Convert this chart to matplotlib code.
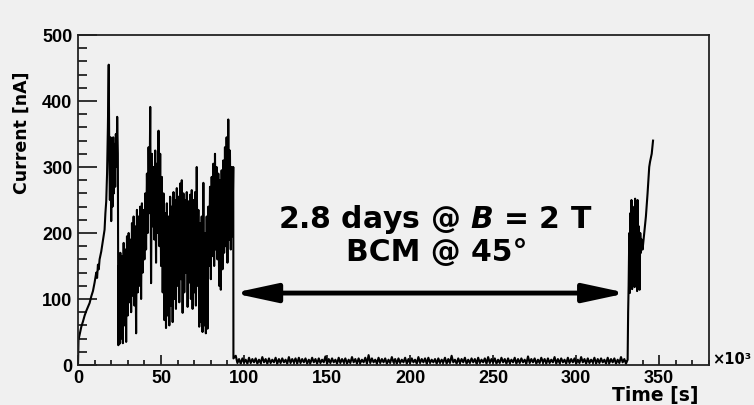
import numpy as np
import matplotlib
matplotlib.use('Agg')
import matplotlib.pyplot as plt
from matplotlib.ticker import MultipleLocator

# Beam current (time in 10^3 s, current in nA)
ramp_t = [0, 0.3, 1, 2, 3, 4, 5, 6, 7, 8, 9, 10, 11, 11.5, 12, 12.5, 13, 14, 15, 16, 16.5, 17, 17.5, 18, 18.5]
ramp_y = [0, 38, 46, 58, 66, 75, 82, 88, 94, 104, 112, 125, 140, 132, 152, 145, 160, 172, 189, 205, 230, 248, 290, 360, 455]

burst_t = [18.8, 19.2, 19.6, 20.0, 20.4, 20.8, 21.2, 21.6, 22.0, 22.4, 22.8, 23.2, 23.6, 24.0, 24.3]
burst_y = [330, 250, 345, 218, 330, 240, 345, 260, 335, 270, 350, 300, 376, 320, 30]

# noisy running period, sampled every 0.5e3 s from 24.5e3 to 93.5e3 s
active_start = 24.5
active_step = 0.5
active_y = [150, 32, 170, 40, 165, 33, 185, 60, 175, 35, 195, 75, 200, 95, 190, 80,
            215, 105, 225, 90, 210, 48, 235, 110, 225, 120, 240, 100, 245, 140, 235, 160,
            260, 175, 290, 200, 330, 230, 391, 124, 320, 210, 300, 190, 325, 155, 305, 200,
            355, 180, 320, 150, 285, 110, 260, 68, 230, 56, 245, 75, 225, 60, 255, 90,
            240, 65, 262, 100, 250, 85, 268, 120, 255, 95, 275, 130, 280, 79, 260, 110,
            250, 140, 262, 88, 248, 125, 258, 100, 265, 85, 250, 110, 262, 90, 300, 120,
            235, 58, 215, 65, 225, 50, 276, 60, 200, 48, 225, 55, 240, 150, 270, 130,
            285, 165, 305, 150, 320, 175, 300, 160, 290, 120, 280, 114, 295, 145, 310, 170,
            330, 180, 345, 155, 372, 190, 325, 175, 300, 195, 300]

drop_t = [93.6]
drop_y = [10]

# beam off / dark current, sampled every 1e3 s from 95e3 to 330e3 s
flat_start = 95
flat_step = 1
flat_y = [14, 3, 9, 2, 10, 4, 8, 2, 11, 3, 9, 4, 10, 2, 8, 3, 12, 4, 9, 2,
          10, 3, 8, 4, 11, 2, 9, 3, 10, 4, 8, 2, 12, 3, 9, 4, 10, 2, 11, 3,
          9, 4, 10, 2, 8, 3, 11, 4, 9, 2, 10, 3, 8, 4, 13, 2, 9, 3, 10, 4,
          8, 2, 11, 3, 9, 4, 10, 2, 8, 3, 12, 4, 9, 2, 10, 3, 8, 4, 11, 2,
          15, 3, 10, 4, 8, 2, 11, 3, 9, 4, 10, 2, 8, 3, 12, 4, 9, 2, 10, 3,
          8, 4, 11, 2, 9, 3, 10, 4, 8, 2, 12, 3, 9, 4, 10, 2, 11, 3, 8, 4,
          9, 2, 10, 3, 8, 4, 11, 2, 9, 3, 14, 4, 8, 2, 10, 3, 9, 4, 11, 2,
          8, 3, 10, 4, 9, 2, 11, 3, 8, 4, 10, 2, 12, 3, 9, 4, 10, 2, 8, 3,
          11, 4, 9, 2, 10, 3, 8, 4, 11, 2, 9, 3, 10, 4, 8, 2, 13, 3, 9, 4,
          10, 2, 8, 3, 11, 4, 9, 2, 10, 3, 8, 4, 12, 2, 9, 3, 10, 4, 8, 2,
          11, 3, 9, 4, 10, 2, 8, 3, 12, 4, 9, 2, 10, 3, 8, 4, 11, 2, 9, 3,
          10, 4, 8, 2, 11, 3, 9, 4, 10, 2, 8, 3, 12, 4, 9, 2]

end_t = [331.0, 331.3, 331.6, 332.0, 332.3, 332.6, 333.0, 333.3, 333.7, 334.0, 334.4, 334.8,
         335.2, 335.5, 335.9, 336.3, 336.7, 337.0, 337.4, 337.8, 338.2, 338.6, 339.0, 339.5,
         340.0, 341.0, 342.0, 343.0, 344.0, 344.5, 345.5, 346.3]
end_y = [8, 80, 120, 200, 109, 230, 130, 250, 115, 240, 140, 225, 118, 252, 160, 235,
         112, 250, 150, 210, 114, 200, 170, 190, 175, 200, 225, 260, 300, 308, 320, 340]

active_t = active_start + active_step * np.arange(len(active_y))
flat_t = flat_start + flat_step * np.arange(len(flat_y))

tempo = np.concatenate([ramp_t, burst_t, active_t, drop_t, flat_t, end_t])
corrente = np.concatenate([ramp_y, burst_y, active_y, drop_y, flat_y, end_y])

plt.rcParams['mathtext.fontset'] = 'custom'
plt.rcParams['mathtext.it'] = 'DejaVu Sans:italic:bold'

bg = '#f0f0f0'
fig = plt.figure(figsize=(7.54, 4.05), dpi=100, facecolor=bg)
ax = fig.add_axes([78/754, 40/405, 631/754, 330/405], facecolor=bg)

ax.plot(tempo, corrente, color='black', lw=1.5)

ax.set_xlim(0, 380)
ax.set_ylim(0, 500)
ax.xaxis.set_major_locator(MultipleLocator(50))
ax.xaxis.set_minor_locator(MultipleLocator(10))
ax.yaxis.set_major_locator(MultipleLocator(100))
ax.yaxis.set_minor_locator(MultipleLocator(20))
ax.tick_params(axis='both', which='both', direction='in', width=1.3, color='#222222')
ax.tick_params(axis='y', which='major', length=13.5, pad=4)
ax.tick_params(axis='y', which='minor', length=6.5)
ax.tick_params(axis='x', which='major', length=7.5, pad=3.5)
ax.tick_params(axis='x', which='minor', length=3.8)
for lab in ax.get_xticklabels() + ax.get_yticklabels():
    lab.set_fontfamily('Liberation Sans')
    lab.set_fontweight('bold')
    lab.set_fontsize(13)
for s in ax.spines.values():
    s.set_linewidth(1.3)
    s.set_color('#222222')

# axis titles ROOT style
ax.text(0.983, -0.093, 'Time [s]', transform=ax.transAxes, ha='right', va='center',
        fontsize=13.5, fontweight='bold', family='DejaVu Sans')
ax.text(-0.0887, 0.888, 'Current [nA]', transform=ax.transAxes, ha='center', va='top',
        rotation=90, fontsize=12.5, fontweight='bold', family='DejaVu Sans')
ax.text(1.005, 0.018, '×10³', transform=ax.transAxes, ha='left', va='center',
        fontsize=10.5, fontweight='bold', family='DejaVu Sans')

# annotation
ax.text(215, 220, '2.8 days @ $B$ = 2 T', ha='center', va='center',
        fontsize=21.5, fontweight='bold', family='DejaVu Sans')
ax.text(216, 171, 'BCM @ 45°', ha='center', va='center',
        fontsize=21.5, fontweight='bold', family='DejaVu Sans')
ax.annotate('', xy=(330.7, 109), xytext=(93.4, 109),
            arrowprops=dict(arrowstyle='<|-|>,head_length=1.3,head_width=0.28',
                            lw=3.5, color='black', shrinkA=0, shrinkB=0,
                            mutation_scale=20))

plt.savefig('out.png', dpi=100, facecolor=bg)
